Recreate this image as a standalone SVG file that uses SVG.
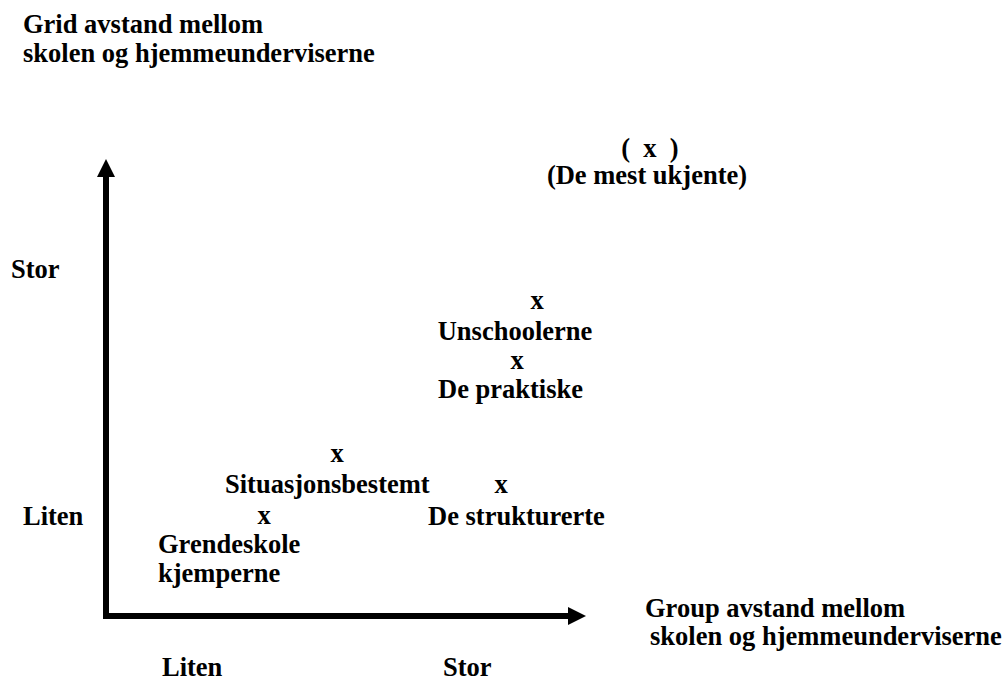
<svg xmlns="http://www.w3.org/2000/svg" width="1008" height="679" viewBox="0 0 1008 679">
<style>
text{font-family:"Liberation Serif","Times New Roman",serif;font-weight:bold;font-size:26.5px;fill:#000}
.ax{stroke:#000;stroke-width:6;fill:none}
</style>
<defs>
<marker id="ah" markerUnits="userSpaceOnUse" markerWidth="18" markerHeight="18" refX="0" refY="9" orient="auto">
<path d="M0,0 L18,9 L0,18 z" fill="#000"/>
</marker>
</defs>
<rect width="1008" height="679" fill="#fff"/>
<g id="connectors">
<line class="ax" x1="106" y1="619" x2="106" y2="177" marker-end="url(#ah)"/>
<line class="ax" x1="103" y1="616" x2="568" y2="616" marker-end="url(#ah)"/>
</g>
<g id="y-axis-title">
<text x="23" y="33">Grid avstand mellom</text>
<text x="23" y="62">skolen og hjemmeunderviserne</text>
</g>
<g id="x-axis-title">
<text x="645" y="617">Group avstand mellom</text>
<text x="650" y="645">skolen og hjemmeunderviserne</text>
</g>
<g id="y-stor"><text x="11" y="278">Stor</text></g>
<g id="y-liten"><text x="23" y="525">Liten</text></g>
<g id="x-liten"><text x="162" y="676">Liten</text></g>
<g id="x-stor"><text x="443" y="676">Stor</text></g>
<g id="de-mest-ukjente">
<text x="650" y="157" text-anchor="middle" xml:space="preserve">(  x  )</text>
<text x="647" y="184" text-anchor="middle">(De mest ukjente)</text>
</g>
<g id="unschoolerne">
<text x="537" y="309" text-anchor="middle">x</text>
<text x="515" y="340" text-anchor="middle">Unschoolerne</text>
</g>
<g id="de-praktiske">
<text x="517" y="369" text-anchor="middle">x</text>
<text x="438" y="398">De praktiske</text>
</g>
<g id="situasjonsbestemt">
<text x="337" y="462" text-anchor="middle">x</text>
<text x="225" y="493">Situasjonsbestemt</text>
</g>
<g id="de-strukturerte">
<text x="501" y="493" text-anchor="middle">x</text>
<text x="428" y="525">De strukturerte</text>
</g>
<g id="grendeskole">
<text x="264" y="524" text-anchor="middle">x</text>
<text x="158" y="553">Grendeskole</text>
<text x="158" y="582">kjemperne</text>
</g>
</svg>
